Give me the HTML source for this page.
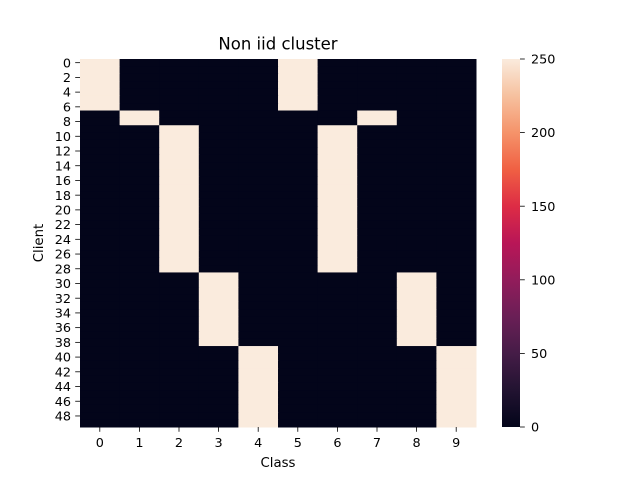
<!DOCTYPE html>
<html><head><meta charset="utf-8"><style>
html,body{margin:0;padding:0;background:#fff}
svg{display:block;font-family:"DejaVu Sans","Liberation Sans",sans-serif}
</style></head><body>
<svg id="chart" width="640" height="480" xmlns="http://www.w3.org/2000/svg">
<defs>
<linearGradient id="rocket" x1="0" y1="1" x2="0" y2="0">
<stop offset="0" stop-color="#03051a"/>
<stop offset="0.1" stop-color="#221331"/>
<stop offset="0.2" stop-color="#451c47"/>
<stop offset="0.3" stop-color="#6a1f56"/>
<stop offset="0.4" stop-color="#921c5b"/>
<stop offset="0.5" stop-color="#b91657"/>
<stop offset="0.6" stop-color="#dd2c45"/>
<stop offset="0.7" stop-color="#f06043"/>
<stop offset="0.8" stop-color="#f5936a"/>
<stop offset="0.9" stop-color="#f6c19f"/>
<stop offset="1" stop-color="#faebdd"/>
</linearGradient>
</defs>
<text x="278" y="49.5" font-size="16.5" text-anchor="middle">Non iid cluster</text>
<g id="cells"></g>
<g id="axes"></g>
<text x="278" y="467" font-size="13.3" text-anchor="middle">Class</text>
<text x="0" y="0" font-size="13.3" text-anchor="middle" transform="translate(43,243) rotate(-90)">Client</text>
<rect x="502" y="59" width="18" height="368" fill="url(#rocket)"/>
<g id="cbar"></g>
</svg>
<script>
const classes=[0,1,2,3,4,5,6,7,8,9];
const nClients=50;
const groupStarts=[0,7,9,29,39];
const groupEnds=[7,9,29,39,50];
const groupClassA=[0,1,2,3,4];
const groupClassB=[5,7,6,8,9];
const groupValues=[250,250,250,250,250];
const cbarTicks=[0,50,100,150,200,250];
const vmin=0,vmax=250;

const X0=80,X1=476,Y0=59,Y1=427;
const cw=(X1-X0)/classes.length, rh=(Y1-Y0)/nClients;
const xPos=c=>X0+c*cw, yPos=r=>Y0+r*rh;
const NS="http://www.w3.org/2000/svg";
function mk(t,a){const e=document.createElementNS(NS,t);for(const k in a)e.setAttribute(k,a[k]);return e;}
function color(v){const t=(v-vmin)/(vmax-vmin);
 const a=[3,5,26],b=[250,235,221];return `rgb(${a.map((x,i)=>Math.round(x+(b[i]-x)*t)).join(',')})`;}
const M=[];for(let r=0;r<nClients;r++)M.push(classes.map(()=>0));
groupStarts.forEach((s,g)=>{for(let r=s;r<groupEnds[g];r++){M[r][groupClassA[g]]=groupValues[g];M[r][groupClassB[g]]=groupValues[g];}});
const cells=document.getElementById('cells');
for(let r=0;r<nClients;r++)for(let c=0;c<classes.length;c++){
 const e=mk('rect',{x:xPos(c),y:yPos(r),width:cw+0.5,height:rh+0.5,fill:color(M[r][c])});
 
 
 cells.appendChild(e);}
const ax=document.getElementById('axes');
classes.forEach(c=>{const x=xPos(c)+cw/2;
 ax.appendChild(mk('line',{x1:x,x2:x,y1:Y1,y2:Y1+4.8,stroke:'#000','stroke-width':0.8}));
 const t=mk('text',{x:x,y:Y1+20,'font-size':12.8,'text-anchor':'middle'});t.textContent=c;
 
 
 ax.appendChild(t);});
for(let r=0;r<nClients;r+=2){const y=yPos(r)+rh/2;
 ax.appendChild(mk('line',{x1:X0-4.8,x2:X0,y1:y,y2:y,stroke:'#000','stroke-width':0.8}));
 const t=mk('text',{x:X0-9,y:y+4.6,'font-size':12.8,'text-anchor':'end'});t.textContent=r;
 
 
 ax.appendChild(t);}
const cb=document.getElementById('cbar');
cbarTicks.forEach(v=>{const y=Y1-(v-vmin)/(vmax-vmin)*(Y1-Y0);
 cb.appendChild(mk('line',{x1:520,x2:524.8,y1:y,y2:y,stroke:'#000','stroke-width':0.8}));
 const t=mk('text',{x:531,y:y+4.6,'font-size':12.8});t.textContent=v;
 
 
 cb.appendChild(t);});
</script>
</body></html>
